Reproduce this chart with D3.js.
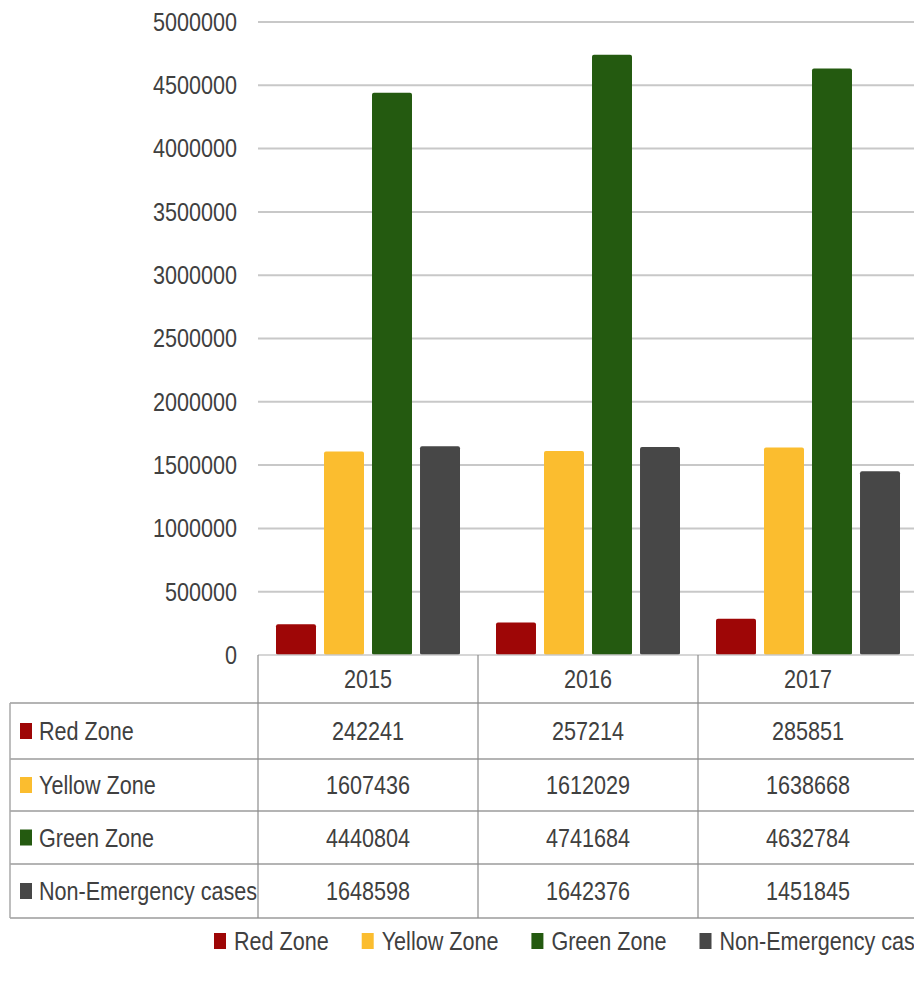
<!DOCTYPE html>
<html lang="en">

<head>
    <meta charset="UTF-8">
    <script src="https://d3js.org/d3.v7.min.js"></script>
    <title>Emergency zones 2015-2017</title>
    <style>
        body {
            margin: 0;
            background: white;
        }

        svg text {
            font-family: "Liberation Sans", Arial, sans-serif;
            font-size: 26px;
            fill: #404040;
        }
    </style>
</head>

<body>
    <div id="chart"></div>
    <script>
        /*-------------------------------------------------------*/
        /*------------------------ Data -------------------------*/
        /*-------------------------------------------------------*/
        const years = ["2015", "2016", "2017"];
        const seriesNames = ["Red Zone", "Yellow Zone", "Green Zone", "Non-Emergency cases"];
        const redZone = [242241, 257214, 285851];
        const yellowZone = [1607436, 1612029, 1638668];
        const greenZone = [4440804, 4741684, 4632784];
        const nonEmergency = [1648598, 1642376, 1451845];
        const yTicks = [0, 500000, 1000000, 1500000, 2000000, 2500000, 3000000, 3500000, 4000000, 4500000, 5000000];

        const seriesValues = [redZone, yellowZone, greenZone, nonEmergency];
        const colors = ["#9e0606", "#fbbd2f", "#245a10", "#474747"];

        /*-------------------------------------------------------*/
        /*---------------------- Layout -------------------------*/
        /*-------------------------------------------------------*/
        const width = 914, height = 983;
        const plotLeft = 258, bandWidth = 220;
        const plotTop = 22, plotBottom = 655;
        const tableLeft = 10;
        const rowLines = [703, 759, 811, 864, 918];   // bottom edge of header + each data row
        const squeezeX = 0.83;                          // the original font is a narrow one

        // narrow a text horizontally around its anchor point
        function squeeze(sel) {
            sel.each(function () {
                const ax = +this.getAttribute("x") || 0;
                d3.select(this).attr("transform",
                    `translate(${ax},0) scale(${squeezeX},1) translate(${-ax},0)`);
            });
        }

        const svg = d3.select("#chart").append("svg")
            .attr("width", width)
            .attr("height", height);

        /*-------------------------------------------------------*/
        /*---------------------- Scales -------------------------*/
        /*-------------------------------------------------------*/
        const x = d3.scaleBand()
            .domain(years)
            .range([plotLeft, plotLeft + bandWidth * years.length]);

        const xInner = d3.scaleBand()
            .domain(seriesNames)
            .range([0, x.bandwidth()])
            .paddingInner(0.167)
            .paddingOuter(0.375);

        const y = d3.scaleLinear()
            .domain([0, 5000000])
            .range([plotBottom, plotTop]);

        /*-------------------------------------------------------*/
        /*---------------------- Grid + axis --------------------*/
        /*-------------------------------------------------------*/
        svg.append("g")
            .selectAll("line")
            .data(yTicks.filter(d => d > 0))
            .enter()
            .append("line")
            .attr("x1", plotLeft)
            .attr("x2", width)
            .attr("y1", d => y(d))
            .attr("y2", d => y(d))
            .attr("stroke", "#c8c8c8")
            .attr("stroke-width", 2);

        const yAxis = d3.axisLeft(y)
            .tickValues(yTicks)
            .tickFormat(d3.format("d"))
            .tickSize(0)
            .tickPadding(21);

        const gAxis = svg.append("g")
            .attr("transform", `translate(${plotLeft},0)`)
            .call(yAxis);
        gAxis.select(".domain").remove();
        gAxis.selectAll("text")
            .attr("fill", "#404040")
            .style("font-size", "26px")
            .style("font-family", "'Liberation Sans', Arial, sans-serif")
            .call(squeeze);

        /*-------------------------------------------------------*/
        /*------------------------ Bars -------------------------*/
        /*-------------------------------------------------------*/
        const barData = [];
        seriesNames.forEach((s, i) => {
            years.forEach((yr, j) => {
                barData.push({ series: s, year: yr, value: seriesValues[i][j], color: colors[i] });
            });
        });

        svg.append("g")
            .selectAll("rect")
            .data(barData)
            .enter()
            .append("rect")
            .attr("x", d => x(d.year) + xInner(d.series))
            .attr("y", d => y(d.value))
            .attr("width", xInner.bandwidth())
            .attr("height", d => y(0) - y(d.value))
            .attr("rx", 2)
            .attr("fill", d => d.color);

        // baseline at zero
        svg.append("line")
            .attr("x1", plotLeft).attr("x2", width)
            .attr("y1", y(0)).attr("y2", y(0))
            .attr("stroke", "#c8c8c8")
            .attr("stroke-width", 1.5);

        /*-------------------------------------------------------*/
        /*---------------------- Data table ---------------------*/
        /*-------------------------------------------------------*/
        const table = svg.append("g");

        // horizontal lines
        table.selectAll("line.h")
            .data(rowLines)
            .enter()
            .append("line")
            .attr("class", "h")
            .attr("x1", tableLeft)
            .attr("x2", width)
            .attr("y1", d => d)
            .attr("y2", d => d)
            .attr("stroke", "#b4b4b4")
            .attr("stroke-width", 2);

        // vertical lines
        table.append("line")
            .attr("x1", tableLeft).attr("x2", tableLeft)
            .attr("y1", rowLines[0]).attr("y2", rowLines[rowLines.length - 1])
            .attr("stroke", "#a8a8a8")
            .attr("stroke-width", 1.5);

        table.selectAll("line.v")
            .data(years)
            .enter()
            .append("line")
            .attr("class", "v")
            .attr("x1", d => x(d))
            .attr("x2", d => x(d))
            .attr("y1", plotBottom)
            .attr("y2", rowLines[rowLines.length - 1])
            .attr("stroke", "#8c8c8c")
            .attr("stroke-width", 1.2);

        // header row: years
        table.selectAll("text.year")
            .data(years)
            .enter()
            .append("text")
            .attr("class", "year")
            .attr("x", d => x(d) + x.bandwidth() / 2)
            .attr("y", (plotBottom + rowLines[0]) / 2)
            .attr("text-anchor", "middle")
            .attr("dominant-baseline", "central")
            .text(d => d)
            .call(squeeze);

        // one row per series
        const rows = table.selectAll("g.row")
            .data(seriesNames)
            .enter()
            .append("g")
            .attr("class", "row")
            .attr("transform", (d, i) => `translate(0,${(rowLines[i] + rowLines[i + 1]) / 2})`);

        rows.append("rect")
            .attr("x", 20)
            .attr("y", -8)
            .attr("width", 12)
            .attr("height", 16)
            .attr("fill", (d, i) => colors[i]);

        rows.append("text")
            .attr("x", 39)
            .attr("dominant-baseline", "central")
            .text(d => d)
            .call(squeeze);

        rows.selectAll("text.val")
            .data((d, i) => seriesValues[i].map((v, j) => ({ year: years[j], value: v })))
            .enter()
            .append("text")
            .attr("class", "val")
            .attr("x", d => x(d.year) + x.bandwidth() / 2)
            .attr("text-anchor", "middle")
            .attr("dominant-baseline", "central")
            .text(d => d.value)
            .call(squeeze);

        /*-------------------------------------------------------*/
        /*------------------------ Legend -----------------------*/
        /*-------------------------------------------------------*/
        // the last entry runs off the right edge, as in the original
        const legend = svg.append("g")
            .attr("transform", "translate(214,941)");

        let cursor = 0;
        seriesNames.forEach((s, i) => {
            const item = legend.append("g").attr("transform", `translate(${cursor},0)`);
            item.append("rect")
                .attr("x", 0)
                .attr("y", -8)
                .attr("width", 12)
                .attr("height", 16)
                .attr("fill", colors[i]);
            const t = item.append("text")
                .attr("x", 20)
                .attr("dominant-baseline", "central")
                .text(s)
                .call(squeeze);
            cursor += 20 + t.node().getComputedTextLength() * squeezeX + 33;
        });
    </script>
</body>

</html>
